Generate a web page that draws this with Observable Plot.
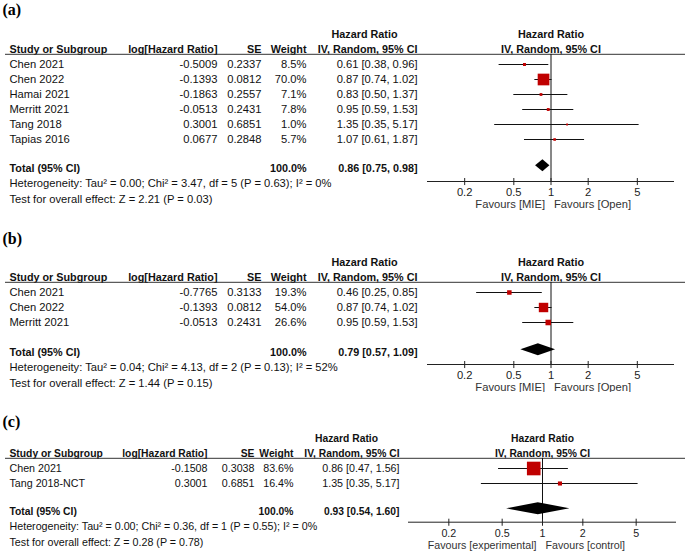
<!DOCTYPE html>
<html><head><meta charset="utf-8">
<script src="https://cdn.jsdelivr.net/npm/d3@7"></script>
<script src="https://cdn.jsdelivr.net/npm/@observablehq/plot@0.6"></script>
<style>
body{margin:0;background:#fff;}
#chart{position:relative;width:685px;height:552px;overflow:hidden;background:#fff;}
</style></head><body><div id="chart"></div>
<script>
// ---------- Panel (a) ----------
const studiesA = ["Chen 2021","Chen 2022","Hamai 2021","Merritt 2021","Tang 2018","Tapias 2016"];
const logHrA = [-0.5009,-0.1393,-0.1863,-0.0513,0.3001,0.0677];
const seA = [0.2337,0.0812,0.2557,0.2431,0.6851,0.2848];
const weightA = [8.5,70.0,7.1,7.8,1.0,5.7];
const hrA = [0.61,0.87,0.83,0.95,1.35,1.07];
const lowerA = [0.38,0.74,0.50,0.59,0.35,0.61];
const upperA = [0.96,1.02,1.37,1.53,5.17,1.87];
const totalA = [0.86,0.75,0.98];
const hetA = "Heterogeneity: Tau\u00b2 = 0.00; Chi\u00b2 = 3.47, df = 5 (P = 0.63); I\u00b2 = 0%";
const testA = "Test for overall effect: Z = 2.21 (P = 0.03)";
const favoursA = ["Favours [MIE]","Favours [Open]"];

// ---------- Panel (b) ----------
const studiesB = ["Chen 2021","Chen 2022","Merritt 2021"];
const logHrB = [-0.7765,-0.1393,-0.0513];
const seB = [0.3133,0.0812,0.2431];
const weightB = [19.3,54.0,26.6];
const hrB = [0.46,0.87,0.95];
const lowerB = [0.25,0.74,0.59];
const upperB = [0.85,1.02,1.53];
const totalB = [0.79,0.57,1.09];
const hetB = "Heterogeneity: Tau\u00b2 = 0.04; Chi\u00b2 = 4.13, df = 2 (P = 0.13); I\u00b2 = 52%";
const testB = "Test for overall effect: Z = 1.44 (P = 0.15)";
const favoursB = ["Favours [MIE]","Favours [Open]"];

// ---------- Panel (c) ----------
const studiesC = ["Chen 2021","Tang 2018-NCT"];
const logHrC = [-0.1508,0.3001];
const seC = [0.3038,0.6851];
const weightC = [83.6,16.4];
const hrC = [0.86,1.35];
const lowerC = [0.47,0.35];
const upperC = [1.56,5.17];
const totalC = [0.93,0.54,1.60];
const hetC = "Heterogeneity: Tau\u00b2 = 0.00; Chi\u00b2 = 0.36, df = 1 (P = 0.55); I\u00b2 = 0%";
const testC = "Test for overall effect: Z = 0.28 (P = 0.78)";
const favoursC = ["Favours [experimental]","Favours [control]"];

const axisTicks = [0.2,0.5,1,2,5];
const xDomain = [0.1,10];
const headers = ["Study or Subgroup","log[Hazard Ratio]","SE","Weight","Hazard Ratio","IV, Random, 95% CI"];

const ci = (h,l,u) => `${h.toFixed(2)} [${l.toFixed(2)}, ${u.toFixed(2)}]`;

function panel(o){
  const n = o.studies.length;
  const rows = o.studies.map((s,i)=>({i, s, lhr:o.logHr[i], se:o.se[i], w:o.weight[i], hr:o.hr[i], lo:o.lower[i], hi:o.upper[i]}));
  const totalRow = n + o.totalGap, hetRow = totalRow + 1.02, testRow = totalRow + 2.04;
  const sepRow = -0.68, axisRow = o.axisRow;
  const c = o.cols, fs = o.fs, bfs = o.fs - 0.4;
  const dRow = totalRow - 0.18, dh = 0.4;
  const [tHr,tLo,tHi] = o.total;
  const diamond = [{x:tLo,y1:dRow,y2:dRow},{x:tHr,y1:dRow-dh,y2:dRow+dh},{x:tHi,y1:dRow,y2:dRow}];
  const txt = (data, opts) => Plot.text(data, {frameAnchor:"left", fill:"#111", fontSize:fs, ...opts});
  const bold = {fontWeight:"bold", fontSize:bfs};
  return Plot.plot({
    width:685, height:o.height, margin:0,
    x:{type:"log", domain:xDomain, range:o.xRange, axis:null},
    y:{type:"linear", domain:[0,1], range:[o.firstRow, o.firstRow+15], axis:null},
    r:{type:"linear", domain:[0,100], range:[1,9]},
    style:{fontFamily:"'Liberation Sans', Arial, sans-serif", background:"white", overflow:"visible"},
    marks:[
      Plot.text([o.label], {frameAnchor:"left", y:[o.labelRow], dx:2, textAnchor:"start", fontFamily:"'Liberation Serif', 'Times New Roman', serif", fontWeight:"bold", fontSize:16, fill:"#000"}),
      // headers
      txt([headers[4]], {y:[-2], dx:c.hrHead, textAnchor:"middle", ...bold}),
      Plot.text([headers[4]], {x:[1], y:[-2], textAnchor:"middle", fill:"#111", ...bold}),
      txt([headers[0]], {y:[-1], dx:c.study, textAnchor:"start", ...bold}),
      txt([headers[1]], {y:[-1], dx:c.lhr, textAnchor:"end", ...bold}),
      txt([headers[2]], {y:[-1], dx:c.se, textAnchor:"end", ...bold}),
      txt([headers[3]], {y:[-1], dx:c.w, textAnchor:"end", ...bold}),
      txt([headers[5]], {y:[-1], dx:c.ci, textAnchor:"end", ...bold}),
      Plot.text([headers[5]], {x:[1], y:[-1], textAnchor:"middle", fill:"#111", ...bold}),
      Plot.ruleY([sepRow], {y:d=>d, insetLeft:5, stroke:"#333", strokeWidth:1}),
      // study rows
      txt(rows, {y:"i", text:"s", dx:c.study, textAnchor:"start"}),
      txt(rows, {y:"i", text:d=>d.lhr.toFixed(4), dx:c.lhr, textAnchor:"end"}),
      txt(rows, {y:"i", text:d=>d.se.toFixed(4), dx:c.se, textAnchor:"end"}),
      txt(rows, {y:"i", text:d=>d.w.toFixed(1)+"%", dx:c.w, textAnchor:"end"}),
      txt(rows, {y:"i", text:d=>ci(d.hr,d.lo,d.hi), dx:c.ci, textAnchor:"end"}),
      // total
      txt(["Total (95% CI)"], {y:[totalRow], dx:c.study, textAnchor:"start", ...bold}),
      txt(["100.0%"], {y:[totalRow], dx:c.w, textAnchor:"end", ...bold}),
      txt([ci(tHr,tLo,tHi)], {y:[totalRow], dx:c.ci, textAnchor:"end", ...bold}),
      txt([o.het], {y:[hetRow], dx:c.study, textAnchor:"start"}),
      txt([o.test], {y:[testRow], dx:c.study, textAnchor:"start"}),
      // forest
      Plot.ruleX([1], {x:d=>d, y1:sepRow, y2:axisRow, stroke:"#111"}),
      Plot.ruleY(rows, {y:"i", x1:"lo", x2:"hi", stroke:"#111", strokeWidth:1}),
      Plot.dot(rows, {x:"hr", y:"i", r:"w", symbol:"square", fill:"#c00000", stroke:null}),
      Plot.areaY(diamond, {x:"x", y1:"y1", y2:"y2", fill:"#000", curve:"linear"}),
      Plot.ruleY([axisRow], {y:d=>d, x1:xDomain[0], x2:xDomain[1], stroke:"#222"}),
      Plot.ruleX(axisTicks, {x:d=>d, y1:axisRow-0.2, y2:axisRow+0.27, stroke:"#222"}),
      Plot.text(axisTicks, {x:d=>d, y:axisRow+0.75, text:d=>String(d), fontSize:fs, fill:"#222"}),
      Plot.text([o.favours[0]], {x:[1], y:[axisRow+1.55], textAnchor:"end", dx:-6, fontSize:fs, fill:"#333"}),
      Plot.text([o.favours[1]], {x:[1], y:[axisRow+1.55], textAnchor:"start", dx:3, fontSize:fs, fill:"#333"})
    ]
  });
}

const chart = document.getElementById("chart");
const colsAB = {study:9, lhr:217, se:261, w:306, ci:417, hrHead:364};
const colsC = {study:9, lhr:207, se:254, w:293, ci:399, hrHead:346};
const panels = [
  {top:0, height:212, label:"(a)", labelRow:-3.67, firstRow:64, totalGap:0.93, axisRow:7.8, xRange:[427,674], cols:colsAB, fs:11.2,
   studies:studiesA, logHr:logHrA, se:seA, weight:weightA, hr:hrA, lower:lowerA, upper:upperA, total:totalA, het:hetA, test:testA, favours:favoursA},
  {top:212, height:180, label:"(b)", labelRow:-3.6, firstRow:80, totalGap:1, axisRow:4.8, xRange:[427,674], cols:colsAB, fs:11.2,
   studies:studiesB, logHr:logHrB, se:seB, weight:weightB, hr:hrB, lower:lowerB, upper:upperB, total:totalB, het:hetB, test:testB, favours:favoursB},
  {top:392, height:160, label:"(c)", labelRow:-3.13, firstRow:76, totalGap:0.87, axisRow:3.58, xRange:[408,676], cols:colsC, fs:10.7,
   studies:studiesC, logHr:logHrC, se:seC, weight:weightC, hr:hrC, lower:lowerC, upper:upperC, total:totalC, het:hetC, test:testC, favours:favoursC}
];
for (const p of panels){
  const svg = panel(p);
  svg.style.position = "absolute";
  svg.style.top = p.top + "px";
  svg.style.left = "0px";
  chart.appendChild(svg);
}
</script>
</body></html>
